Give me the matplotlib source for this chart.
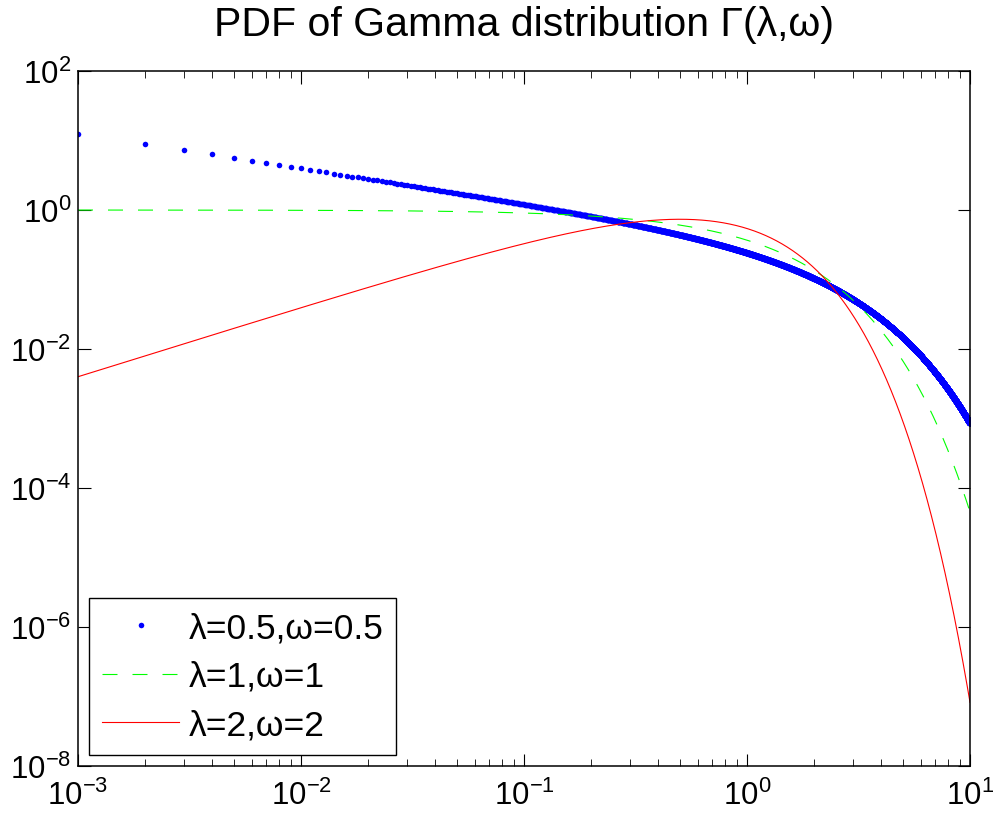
import numpy as np
import matplotlib
matplotlib.use('Agg')
import matplotlib.pyplot as plt
from math import gamma as gamma_fn

# shape (lambda) and rate (omega) of each curve, as given in the legend
shapes = [0.5, 1, 2]
rates = [0.5, 1, 2]
labels = ['λ=0.5,ω=0.5', 'λ=1,ω=1', 'λ=2,ω=2']
colors = ['#0000ff', '#00ff00', '#ff0000']

# sample grid: 0.001 to 10 in steps of 0.001
x = np.arange(1, 10001) * 0.001


def gamma_pdf(x, k, w):
    return w**k * x**(k - 1) * np.exp(-w * x) / gamma_fn(k)


plt.rcParams.update({
    'font.family': ['Liberation Sans', 'DejaVu Sans'],
    'axes.linewidth': 1.1,
    'xtick.direction': 'in',
    'ytick.direction': 'in',
    'xtick.top': True,
    'ytick.right': True,
    'xtick.major.size': 9,
    'ytick.major.size': 9,
    'xtick.minor.size': 5,
    'ytick.minor.size': 5,
    'xtick.major.width': 0.8,
    'ytick.major.width': 0.8,
    'xtick.minor.width': 0.6,
    'ytick.minor.width': 0.6,
    'mathtext.default': 'regular',
})

fig = plt.figure(figsize=(9.97, 8.2), dpi=100)
ax = fig.add_axes([78 / 997, 1 - 767 / 820, (970 - 78) / 997, (767 - 72) / 820])

ax.plot(x, gamma_pdf(x, shapes[0], rates[0]), linestyle='none', marker='o',
        markersize=4.0, markeredgewidth=0, color=colors[0], label=labels[0])
ax.plot(x, gamma_pdf(x, shapes[1], rates[1]), linestyle=(0, (13.5, 13.5)),
        linewidth=0.8, color=colors[1], label=labels[1])
ax.plot(x, gamma_pdf(x, shapes[2], rates[2]), linestyle='-',
        linewidth=0.8, color=colors[2], label=labels[2])

ax.set_xscale('log')
ax.set_yscale('log')
ax.set_xlim(1e-3, 10)
ax.set_ylim(1e-8, 1e2)
ax.set_xticks([1e-3, 1e-2, 1e-1, 1e0, 1e1])
ax.set_xticks([m * 10.0**e for e in range(-3, 1) for m in range(2, 10)], minor=True)
ax.set_yticks([1e-8, 1e-6, 1e-4, 1e-2, 1e0, 1e2])
ax.yaxis.set_minor_locator(matplotlib.ticker.NullLocator())
ax.xaxis.set_minor_formatter(matplotlib.ticker.NullFormatter())
ax.tick_params(axis='x', which='major', labelsize=22.5, pad=10)
ax.tick_params(axis='y', which='major', labelsize=22.5, pad=5)

ax.set_title('PDF of Gamma distribution Γ(λ,ω)', fontsize=29.5, pad=26)

leg = ax.legend(loc='lower left', fontsize=25.5, fancybox=False, framealpha=1,
                edgecolor='black', handlelength=2.15, borderaxespad=0.32,
                borderpad=0.37, labelspacing=0.44, handletextpad=0.28,
                markerscale=1.0)
leg.get_frame().set_linewidth(1.0)

fig.savefig('out.png', dpi=100)
